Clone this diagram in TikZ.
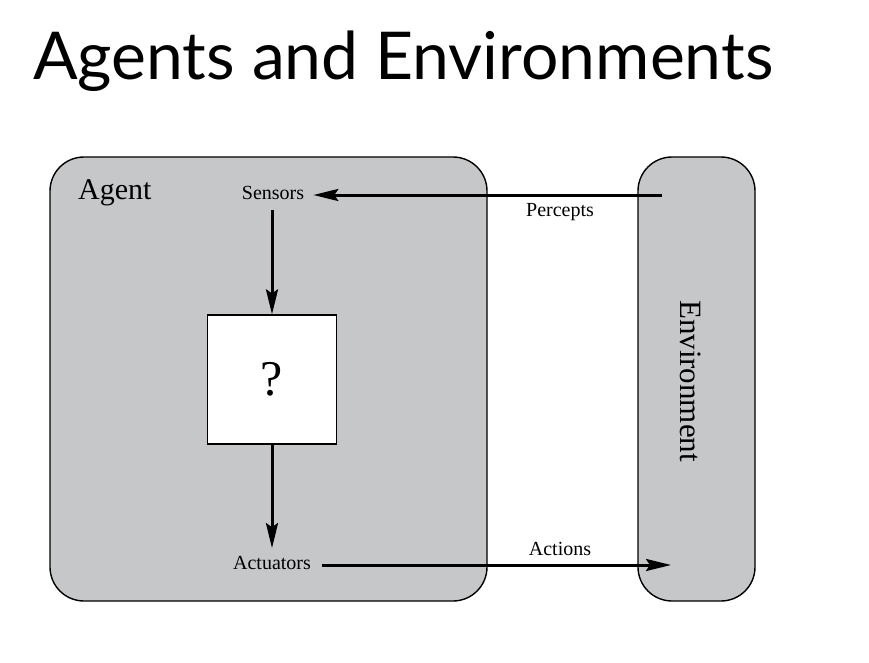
\documentclass[tikz,border=0pt]{standalone}
\usepackage{fontspec}
\setmainfont{Liberation Serif}
\newfontfamily\titlefont{Lato}
\usepackage[dvipsnames]{xcolor}
\usetikzlibrary{arrows.meta,positioning}
\definecolor{boxgray}{HTML}{C6C7C9}
\tikzset{
	panel/.style={draw=black, line width=1.4pt, fill=boxgray, rounded corners=34pt},
	flow/.style={line width=3pt, -{Stealth[length=25pt, width=12pt, inset=4pt]}},
	lbl/.style={font=\fontsize{20}{20}\selectfont, inner sep=0pt}
}
\begin{document}
\begin{tikzpicture}[x=1pt, y=-1pt]
	\useasboundingbox (0,0) rectangle (869,663);
	\node[anchor=base west, inner sep=0pt, font=\titlefont\fontsize{66}{66}\selectfont] (title) at (33,80) {Agents and Environments};
	
	\draw[panel] (50,157) rectangle (487,601);
	\draw[panel] (638,157) rectangle (755,601);
	\node[anchor=base west, inner sep=0pt, font=\fontsize{30}{30}\selectfont] (agent) at (78,199) {Agent};
	\node[rotate=-90, inner sep=0pt, font=\fontsize{31}{31}\selectfont] (env) at (691,381) {Environment};
	
	\node[lbl] (sensors) at (273,193) {Sensors};
	\node[lbl] (actuators) at (272,563) {Actuators};
	\node[draw=black, line width=1.2pt, fill=white, minimum size=129pt, inner sep=0pt, font=\fontsize{50}{50}\selectfont] (program) at (272,379.5) {?};
	\coordinate (envin) at (662,195);
	\coordinate (envout) at (671,565);
	
	\draw[flow] (envin) -- ([xshift=9pt]sensors.east |- envin);
	\draw[flow] ([yshift=-10pt]sensors.south -| program) -- (program.north);
	\draw[flow] (program.south) -- ([yshift=8pt]actuators.north);
	\draw[flow] ([xshift=11pt]actuators.east |- envout) -- (envout);
	\node[lbl] (percepts) at (560,212) {Percepts};
	\node[lbl] (actions) at (560,549) {Actions};
\end{tikzpicture}
\end{document}
